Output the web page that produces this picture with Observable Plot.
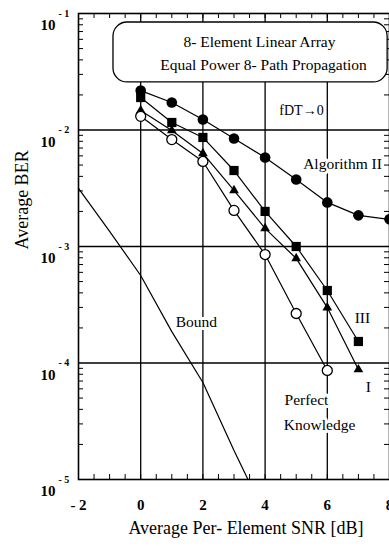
<!DOCTYPE html>
<html><head><meta charset="utf-8">
<script src="https://cdn.jsdelivr.net/npm/d3@7"></script>
<script src="https://cdn.jsdelivr.net/npm/@observablehq/plot@0.6"></script>
<style>html,body{margin:0;padding:0;background:#fff;overflow:hidden}</style>
</head><body><div id="chart"></div>
<script>
// ---- data ----
const snrII = [0, 1, 2, 3, 4, 5, 6, 7, 8];
const berII = [0.0218, 0.0172, 0.0123, 0.00845, 0.0058, 0.00376, 0.00239, 0.00185, 0.00171];
const snrIII = [0, 1, 2, 3, 4, 5, 6, 7];
const berIII = [0.019, 0.0116, 0.00863, 0.00449, 0.0020, 0.00100, 0.000419, 0.000153];
const snrI = [0, 1, 2, 3, 4, 5, 6, 7];
const berI = [0.0147, 0.0099, 0.00629, 0.00303, 0.00143, 0.00079, 0.000299, 0.0000879];
const snrPK = [0, 1, 2, 3, 4, 5, 6];
const berPK = [0.0131, 0.00828, 0.00537, 0.00204, 0.000853, 0.000266, 0.0000863];
const snrBound = [-2, -1, 0, 1, 2, 3, 3.45];
const berBound = [0.00315, 0.00135, 0.000564, 0.000186, 0.000068, 0.0000177, 0.00001];

const xTicks = [-2, 0, 2, 4, 6, 8];
const xTickLabels = ["- 2", "0", "2", "4", "6", "8"];
const yTicks = [1e-1, 1e-2, 1e-3, 1e-4, 1e-5];
const yTickExps = ["- 1", "- 2", "- 3", "- 4", "- 5"];
const xGrid = [0, 2, 4, 6];
const yGrid = [1e-2, 1e-3, 1e-4];

// annotation texts (data coordinates)
const boxExtent = [{x1: -0.875, x2: 7.94, y1: 0.0837, y2: 0.0256}];
const boxLines = [
  {x: 3.82, y: 0.0564, t: "8- Element Linear Array"},
  {x: 3.95, y: 0.0358, t: "Equal Power 8- Path Propagation"}
];
const seriesLabels = [
  {x: 6.49, y: 0.00515, t: "Algorithm II"},
  {x: 7.13, y: 0.000241, t: "III"},
  {x: 7.32, y: 0.0000617, t: "I"},
  {x: 5.33, y: 0.0000477, t: "Perfect"},
  {x: 5.75, y: 0.0000291, t: "Knowledge"},
  {x: 1.79, y: 0.000223, t: "Bound"}
];
const fdtLabel = [{x: 5.17, y: 0.0147, t: "fDT→0"}];
const xTitle = "Average Per- Element SNR [dB]";
const yTitle = "Average BER";

// minor ticks
const xMinor = d3.range(-2, 8.01, 0.5);
const yMinor = [];
for (let e = -5; e < -1; e++) for (let m = 2; m <= 9; m++) yMinor.push(m * Math.pow(10, e));

const toRows = (xs, ys) => xs.map((x, i) => ({x, y: ys[i]}));
const II = toRows(snrII, berII), III = toRows(snrIII, berIII), I = toRows(snrI, berI);
const PK = toRows(snrPK, berPK), B = toRows(snrBound, berBound);

const W = 389, H = 546, ML = 78, MR = 0, MT = 13, MB = 67;
const innerW = W - ML - MR, innerH = H - MT - MB;
const font = "'Liberation Serif', 'Times New Roman', serif";

const chart = Plot.plot({
  width: W, height: H,
  marginLeft: ML, marginRight: MR, marginTop: MT, marginBottom: MB,
  style: {fontFamily: font, background: "white", color: "black"},
  x: {domain: [-2, 8], axis: null},
  y: {type: "log", domain: [1e-5, 1e-1], axis: null},
  marks: [
    Plot.ruleX(xGrid, {stroke: "black", strokeWidth: 1.3}),
    Plot.ruleY(yGrid, {stroke: "black", strokeWidth: 1.3}),
    Plot.ruleX(xMinor, {stroke: "black", insetTop: innerH - 5}),
    Plot.ruleX(xMinor, {stroke: "black", insetBottom: innerH - 5}),
    Plot.ruleY(yMinor, {stroke: "black", insetRight: innerW - 5}),
    Plot.ruleY(yMinor, {stroke: "black", insetLeft: innerW - 5}),
    Plot.frame({stroke: "black", strokeWidth: 1.6}),
    Plot.rect(boxExtent, {x1: "x1", x2: "x2", y1: "y1", y2: "y2", rx: 14, fill: "white", stroke: "black", strokeWidth: 1.3}),
    Plot.text(boxLines, {x: "x", y: "y", text: "t", fontSize: 15.5, fontFamily: font, fill: "black"}),
    Plot.line(B, {x: "x", y: "y", stroke: "black", strokeWidth: 1.2}),
    Plot.line(II, {x: "x", y: "y", stroke: "black", strokeWidth: 1.2}),
    Plot.line(III, {x: "x", y: "y", stroke: "black", strokeWidth: 1.2}),
    Plot.line(I, {x: "x", y: "y", stroke: "black", strokeWidth: 1.2}),
    Plot.line(PK, {x: "x", y: "y", stroke: "black", strokeWidth: 1.2}),
    Plot.dot(II, {x: "x", y: "y", r: 5.3, fill: "black", symbol: "circle"}),
    Plot.dot(III, {x: "x", y: "y", r: 5.2, fill: "black", symbol: "square"}),
    Plot.dot(I, {x: "x", y: "y", r: 3.6, fill: "black", symbol: "triangle"}),
    Plot.dot(PK, {x: "x", y: "y", r: 5, fill: "white", stroke: "black", strokeWidth: 1.3, symbol: "circle"}),
    Plot.text(seriesLabels, {x: "x", y: "y", text: "t", fontSize: 15.5, fontFamily: font, fill: "black", stroke: "white", strokeWidth: 6}),
    Plot.text(fdtLabel, {x: "x", y: "y", text: "t", fontSize: 14, fontFamily: font, fill: "black", stroke: "white", strokeWidth: 3}),
    // y tick labels
    Plot.text(yTicks, {x: -2, y: d => d, text: () => "10", dx: -23, dy: 12, textAnchor: "end", fontSize: 15, fontWeight: "bold", fontFamily: font, fill: "black"}),
    Plot.text(yTicks, {x: -2, y: d => d, text: (d, i) => yTickExps[i], dx: -20, dy: 0, textAnchor: "start", fontSize: 10, fontWeight: "bold", fontFamily: font, fill: "black"}),
    // x tick labels
    Plot.text(xTicks, {x: d => d, y: 1e-5, text: (d, i) => xTickLabels[i], dy: 26, fontSize: 15, fontWeight: "bold", fontFamily: font, fill: "black"}),
    // titles
    Plot.text([xTitle], {frameAnchor: "bottom", text: d => d, dx: 12, dy: 54, fontSize: 18, fontFamily: font, fill: "black"}),
    Plot.text([yTitle], {frameAnchor: "left", text: d => d, rotate: -90, dx: -56, dy: 3, fontSize: 18, fontFamily: font, fill: "black"})
  ]
});
document.getElementById("chart").appendChild(chart);
</script>
</body></html>
